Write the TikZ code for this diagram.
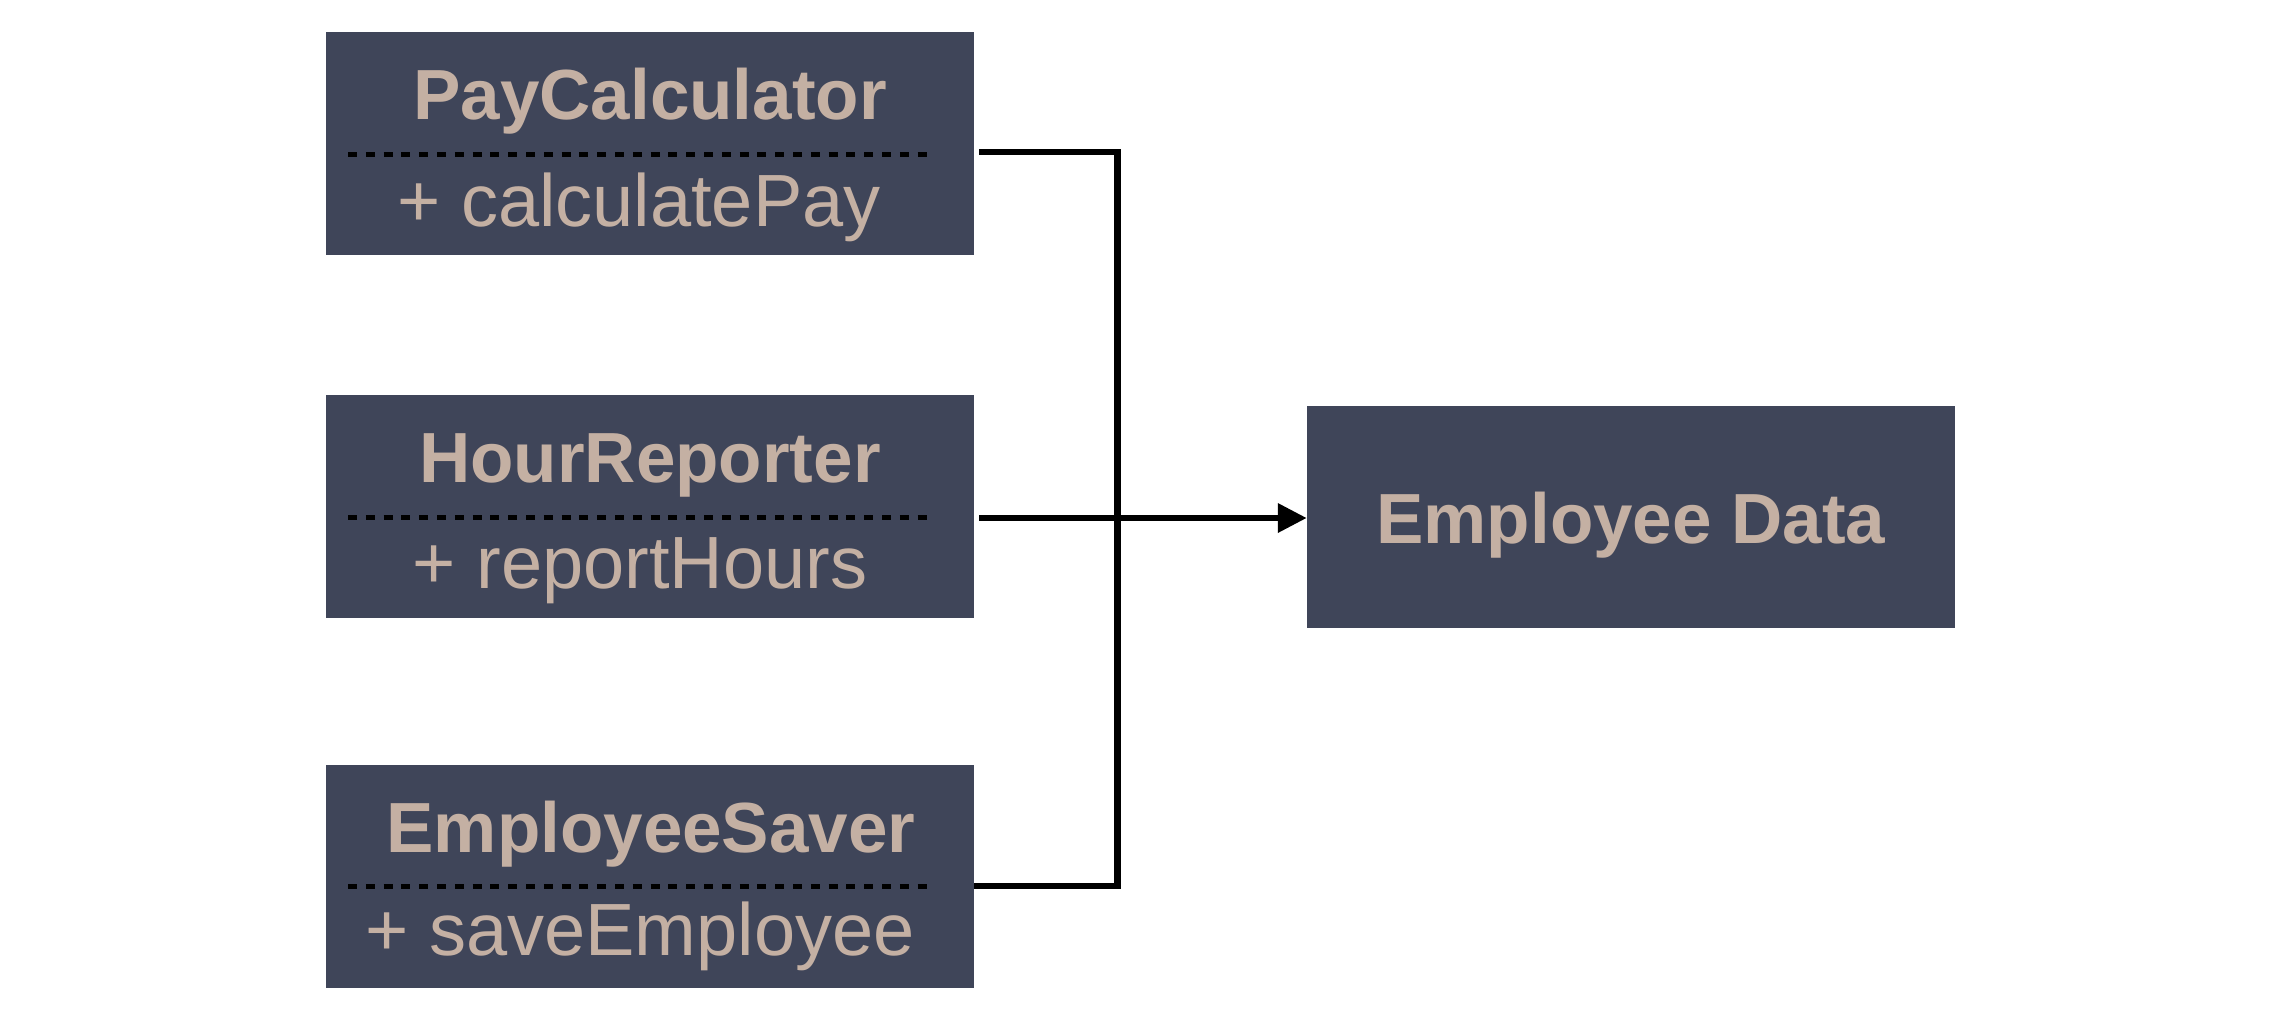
\documentclass[tikz,border=0pt]{standalone}
\usepackage{fontspec}
\setmainfont{Liberation Sans}
\usetikzlibrary{arrows.meta}
\definecolor{boxfill}{HTML}{3F4559}
\definecolor{boxtext}{HTML}{C4B0A3}
\begin{document}
\begin{tikzpicture}[x=1pt,y=-1pt,
  clsbox/.style={draw=none,fill=boxfill,minimum width=648pt,minimum height=223pt,inner sep=0pt},
  titletext/.style={text=boxtext,font=\fontsize{71}{80}\selectfont\bfseries,anchor=base,inner sep=0pt},
  methtext/.style={text=boxtext,font=\fontsize{74}{80}\selectfont,anchor=base,inner sep=0pt},
  sepline/.style={line width=5pt,dash pattern=on 9pt off 8.8pt,black},
  conn/.style={line width=6.5pt,black}]
\useasboundingbox (0,0) rectangle (2284,1018);
% boxes
\node[clsbox] (pay) at (650,143.5) {};
\node[clsbox] (hr) at (650,506.5) {};
\node[clsbox] (saver) at (650,876.5) {};
\node[clsbox,minimum height=222pt] (data) at (1631,517) {};
% texts
\node[titletext] (payt) at (650,119.5) {PayCalculator};
\node[methtext] (paym) at (639,226) {+ calculatePay};
\node[titletext] (hrt) at (650,482) {HourReporter};
\node[methtext] (hrm) at (640,588) {+ reportHours};
\node[titletext] (savert) at (651,852) {EmployeeSaver};
\node[methtext] (saverm) at (640,955) {+ saveEmployee};
\node[titletext] (datat) at (1631,543) {Employee Data};
% dashed separators
\coordinate (payl) at (348,154); \coordinate (payr) at (930,154);
\coordinate (hrl) at (348,517); \coordinate (hrr) at (930,517);
\coordinate (saverl) at (348,886); \coordinate (saverr) at (930,886);
\draw[sepline] (payl) -- (payr);
\draw[sepline] (hrl) -- (hrr);
\draw[sepline] (saverl) -- (saverr);
% connectors
\coordinate (payc) at (979,152);
\coordinate (bustop) at (1117.5,152);
\coordinate (busbot) at (1117.5,886);
\coordinate (hrc) at (979,518);
\coordinate (busmid) at (1117.5,518);
\draw[conn] (payc) -- (bustop) -- (busbot) -- (saver.east |- busbot);
\draw[conn] (hrc) -- (busmid);
\draw[conn,-{Triangle[length=29pt,width=28pt]}] (busmid) -- (data.west |- busmid);
\end{tikzpicture}
\end{document}
